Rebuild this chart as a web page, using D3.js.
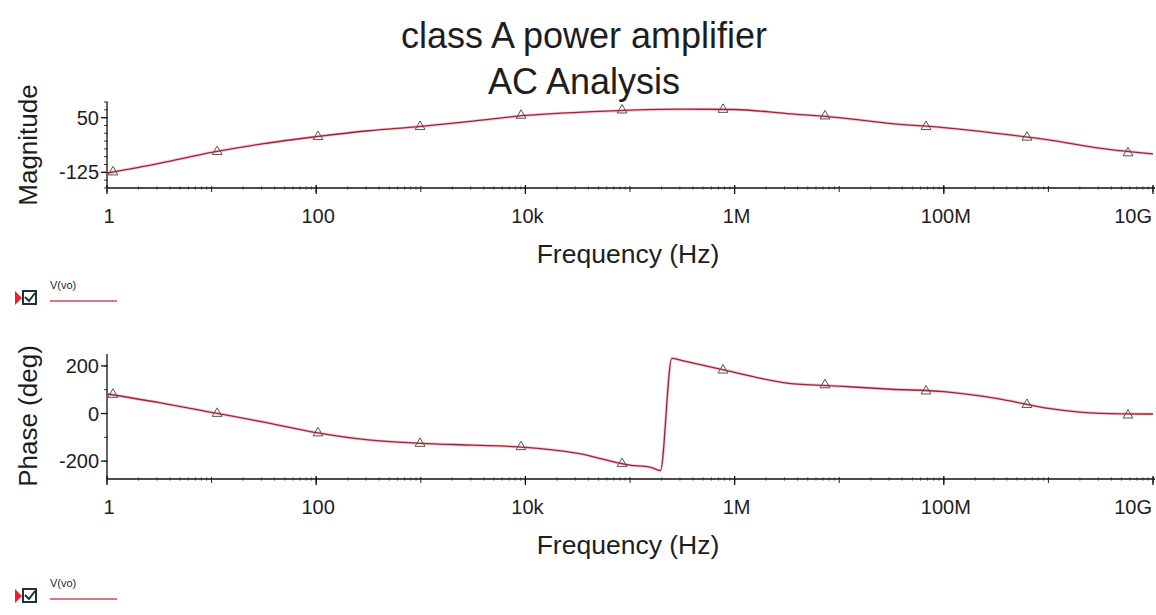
<!DOCTYPE html>
<html>
<head>
<meta charset="utf-8">
<script src="https://cdn.jsdelivr.net/npm/d3@7"></script>
<style>
  html, body { margin: 0; padding: 0; background: #fff; }
  svg { display: block; }
  text { font-family: "Liberation Sans", Arial, sans-serif; fill: #1e1e1e; }
</style>
</head>
<body>
<svg id="chart" width="1156" height="615"></svg>
<script>
// ---------------- data ----------------
const titleLines = ["class A power amplifier", "AC Analysis"];
const xTickValues = [1, 1e2, 1e4, 1e6, 1e8, 1e10];
const xTickLabels = ["1", "100", "10k", "1M", "100M", "10G"];
const xAxisTitle = "Frequency (Hz)";

const magLabel = "Magnitude";
const magTicks = [50, -125];
const magFreq = [1, 3.16, 10, 31.6, 100, 316, 1e3, 3.16e3, 1e4, 3.16e4, 1e5, 3.16e5, 1e6, 3.16e6, 1e7, 3.16e7, 1e8, 3.16e8, 1e9, 3.16e9, 1e10];
const magValues = [-127, -96, -61, -33, -11, 8, 22, 39, 57, 67, 74, 77, 76, 63, 50, 31, 18, 0, -21, -48, -66];

const phaseLabel = "Phase (deg)";
const phaseTicks = [200, 0, -200];
const phaseFreq = [1, 3.16, 10, 31.6, 100, 316, 1e3, 3.16e3, 1e4, 3.16e4, 1e5, 1.58e5, 1.95e5, 2.51e5, 3.16e5, 1e6, 3.16e6, 1e7, 3.16e7, 1e8, 3.16e8, 1e9, 3.16e9, 1e10];
const phaseValues = [82, 46, 5, -36, -80, -111, -125, -133, -142, -167, -217, -226, -240, 232, 222, 173, 128, 115, 102, 92, 64, 22, 1, -2];

const markerFreq = [1.14, 11.3, 104, 984, 9.08e3, 8.4e4, 7.75e5, 7.31e6, 6.76e7, 6.24e8, 5.77e9];
const magMarkers = [-124, -59, -11, 21, 57, 74, 76, 55, 21, -13, -63];
const phaseMarkers = [80, 0, -82, -126, -140, -211, 182, 120, 94, 37, -7];

const legendText = "V(vo)";

// ---------------- layout ----------------
const svg = d3.select("#chart");
const xLeft = 107, xRight = 1153;
const x = d3.scaleLog().domain([1, 1e10]).range([xLeft, xRight]);

const panels = [
  { label: magLabel, freq: magFreq, vals: magValues, marks: magMarkers, ticks: magTicks,
    domain: [-175, 100], minorStep: 25, range: [188, 102], labelY: 145, legendY: 291 },
  { label: phaseLabel, freq: phaseFreq, vals: phaseValues, marks: phaseMarkers, ticks: phaseTicks,
    domain: [-275, 250], minorStep: 100, range: [479, 354], labelY: 416, legendY: 589 }
];

// title
svg.selectAll("text.title").data(titleLines).join("text")
  .attr("class", "title")
  .attr("x", 584).attr("y", (d, i) => 48 + i * 46)
  .attr("text-anchor", "middle")
  .style("font-size", "36px")
  .text(d => d);

panels.forEach(p => {
  const y = d3.scaleLinear().domain(p.domain).range(p.range);
  const g = svg.append("g");
  const yBase = p.range[0];

  // x axis line
  g.append("line").attr("x1", xLeft).attr("x2", 1155).attr("y1", yBase).attr("y2", yBase)
    .attr("stroke", "#111").attr("stroke-width", 1.6);

  // x minor ticks (log)
  const minor = [];
  for (let e = 0; e < 10; e++) for (let m = 2; m <= 9; m++) minor.push(m * Math.pow(10, e));
  g.selectAll("line.xminor").data(minor).join("line")
    .attr("x1", d => x(d)).attr("x2", d => x(d))
    .attr("y1", yBase - 1.5).attr("y2", yBase + 1.5)
    .attr("stroke", "#333").attr("stroke-width", 1);
  const decades = d3.range(0, 11).map(e => Math.pow(10, e));
  g.selectAll("line.xdec").data(decades).join("line")
    .attr("x1", d => x(d)).attr("x2", d => x(d))
    .attr("y1", yBase - 2).attr("y2", yBase + 4)
    .attr("stroke", "#222").attr("stroke-width", 1);
  g.selectAll("line.xmaj").data(xTickValues).join("line")
    .attr("x1", d => x(d)).attr("x2", d => x(d))
    .attr("y1", yBase - 3).attr("y2", yBase + 6)
    .attr("stroke", "#111").attr("stroke-width", 1.3);

  // x tick labels
  const nT = xTickValues.length;
  g.selectAll("text.xl").data(xTickValues).join("text")
    .attr("x", (d, i) => i === nT - 1 ? xRight - 1 : x(d) + 2).attr("y", yBase + 35)
    .attr("text-anchor", (d, i) => i === nT - 1 ? "end" : "middle")
    .style("font-size", "20px")
    .text((d, i) => xTickLabels[i]);

  // x axis title
  g.append("text").attr("x", 628).attr("y", yBase + 75)
    .attr("text-anchor", "middle").style("font-size", "26.5px").text(xAxisTitle);

  // y axis line
  g.append("line").attr("x1", xLeft).attr("x2", xLeft).attr("y1", p.range[1]).attr("y2", p.range[0])
    .attr("stroke", "#111").attr("stroke-width", 1.3);
  const minorY = d3.range(Math.ceil(p.domain[0] / p.minorStep) * p.minorStep, p.domain[1] + 0.1, p.minorStep);
  g.selectAll("line.yminor").data(minorY).join("line")
    .attr("x1", xLeft - 3).attr("x2", xLeft + 1)
    .attr("y1", d => y(d)).attr("y2", d => y(d))
    .attr("stroke", "#333").attr("stroke-width", 1);
  g.selectAll("line.ymaj").data(p.ticks).join("line")
    .attr("x1", xLeft - 6).attr("x2", xLeft)
    .attr("y1", d => y(d)).attr("y2", d => y(d))
    .attr("stroke", "#111").attr("stroke-width", 1.3);
  g.selectAll("text.yl").data(p.ticks).join("text")
    .attr("x", xLeft - 8).attr("y", d => y(d) + 7)
    .attr("text-anchor", "end")
    .style("font-size", "20px")
    .text(d => String(d));

  // y axis title
  g.append("text")
    .attr("transform", `translate(37,${p.labelY}) rotate(-90)`)
    .attr("text-anchor", "middle").style("font-size", "26px").text(p.label);

  // curve
  const pts = p.freq.map((f, i) => [f, p.vals[i]]);
  const line = d3.line().x(d => x(d[0])).y(d => y(d[1])).curve(d3.curveMonotoneX);
  g.append("path").datum(pts).attr("d", line)
    .attr("fill", "none").attr("stroke", "#f08a96").attr("stroke-width", 3).attr("opacity", 0.45);
  g.append("path").datum(pts).attr("d", line)
    .attr("fill", "none").attr("stroke", "#9a2636").attr("stroke-width", 1.3);

  // markers
  const tri = d3.symbol().type(d3.symbolTriangle).size(42);
  g.selectAll("path.mk").data(markerFreq).join("path")
    .attr("d", tri)
    .attr("transform", (d, i) => `translate(${x(d)},${y(p.marks[i])})`)
    .attr("fill", "none").attr("stroke", "#555").attr("stroke-width", 1);

  // legend
  const ly = p.legendY;
  const lg = svg.append("g");
  lg.append("path").attr("d", `M15,${ly} L22,${ly + 7} L15,${ly + 14} Z`).attr("fill", "#e5242e");
  lg.append("rect").attr("x", 23).attr("y", ly).attr("width", 13).attr("height", 13)
    .attr("fill", "#fff").attr("stroke", "#1c3434").attr("stroke-width", 2);
  lg.append("path").attr("d", `M25,${ly + 6} L29,${ly + 10} L35,${ly + 2}`)
    .attr("fill", "none").attr("stroke", "#1c3434").attr("stroke-width", 2);
  lg.append("text").attr("x", 50).attr("y", ly - 2).style("font-size", "11px").text(legendText);
  lg.append("line").attr("x1", 50).attr("x2", 117).attr("y1", ly + 10).attr("y2", ly + 10)
    .attr("stroke", "#d44656").attr("stroke-width", 1.3);
});
</script>
</body>
</html>
